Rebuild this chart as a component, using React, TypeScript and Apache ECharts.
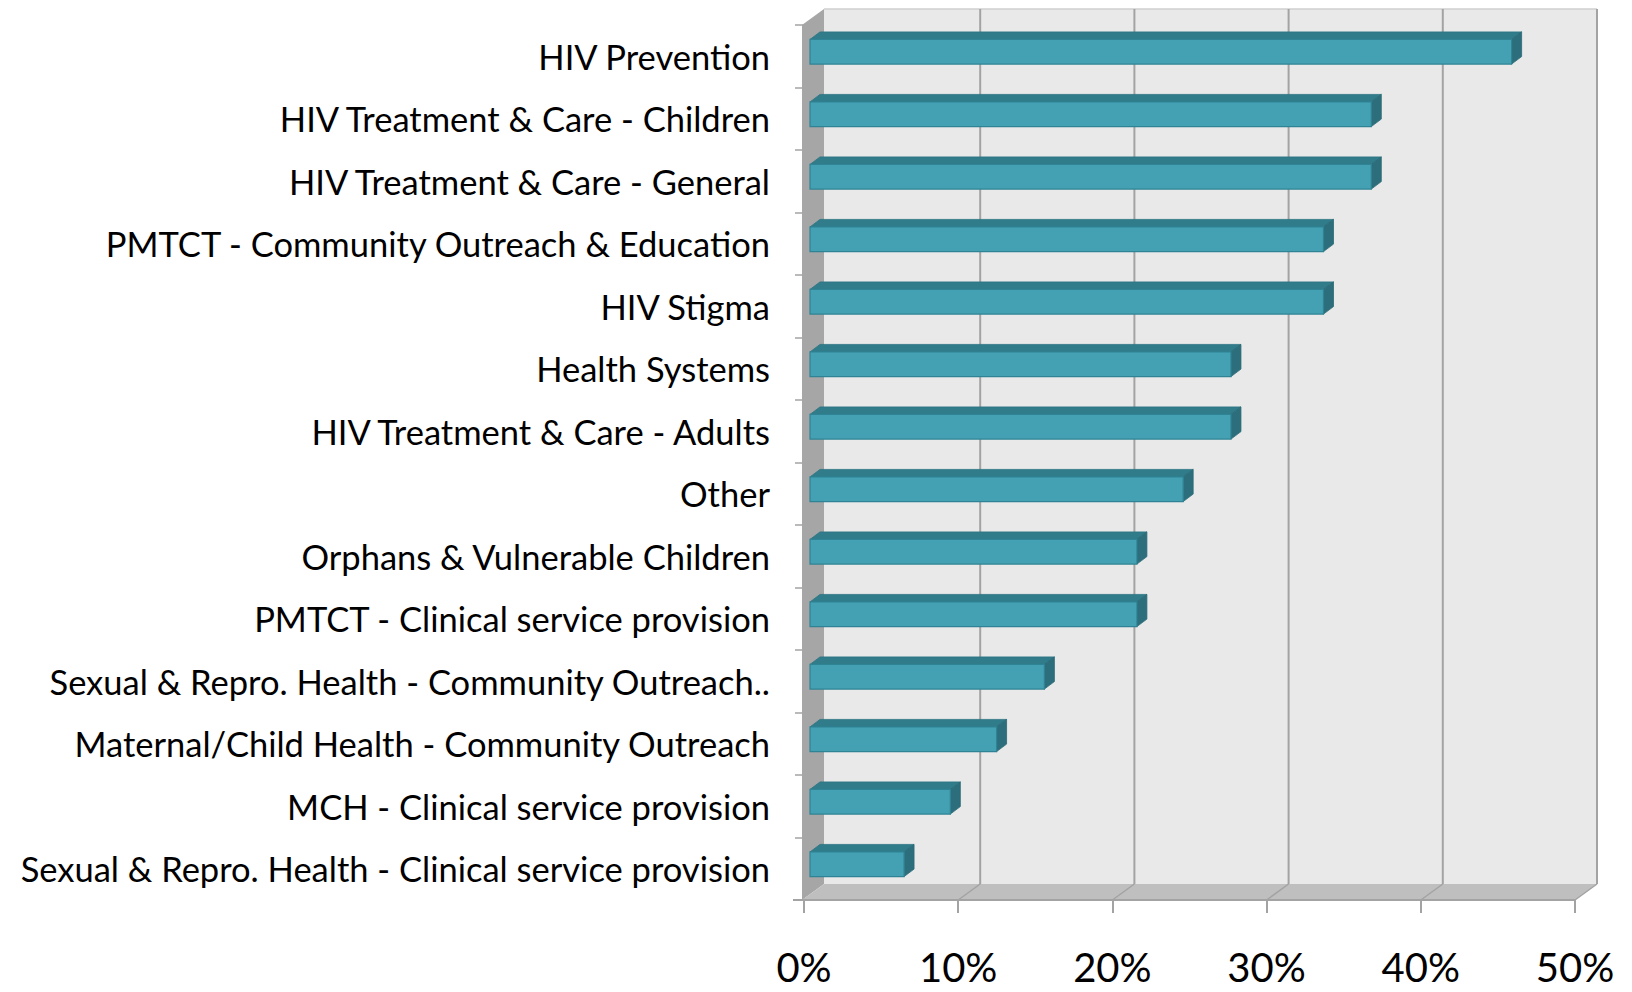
import React, { useEffect, useRef } from "react";
import * as echarts from "echarts";

const categories = [
  "HIV Prevention",
  "HIV Treatment & Care - Children",
  "HIV Treatment & Care - General",
  "PMTCT - Community Outreach & Education",
  "HIV Stigma",
  "Health Systems",
  "HIV Treatment & Care - Adults",
  "Other",
  "Orphans & Vulnerable Children",
  "PMTCT - Clinical service provision",
  "Sexual & Repro. Health - Community Outreach..",
  "Maternal/Child Health - Community Outreach",
  "MCH - Clinical service provision",
  "Sexual & Repro. Health - Clinical service provision",
];
const values = [45.5, 36.4, 36.4, 33.3, 33.3, 27.3, 27.3, 24.2, 21.2, 21.2, 15.2, 12.1, 9.1, 6.1];
const xTicks = [0, 10, 20, 30, 40, 50];

const FONT = "'Gill Sans', 'Gill Sans MT', Lato, 'Open Sans', sans-serif";

export default function App() {
  const ref = useRef<HTMLDivElement>(null);
  useEffect(() => {
    if (!ref.current) return;
    const chart = echarts.init(ref.current, undefined, { renderer: "svg" });
    const DX = 22;
    const DY = -16;

    const wallsRender = (params: any, api: any) => {
      const band = api.size([0, 1])[1];
      const a = api.coord([xTicks[0], 0]);
      const b = api.coord([xTicks[xTicks.length - 1], categories.length - 1]);
      const x0 = a[0] - 2;
      const x1 = b[0];
      const yT = a[1] - band / 2;
      const yB = b[1] + band / 2;
      const children: any[] = [];
      children.push({
        type: "rect",
        shape: { x: x0 + DX, y: yT + DY, width: x1 - x0, height: yB - yT },
        style: { fill: "#e9e9e9", stroke: null },
      });
      children.push({
        type: "line",
        shape: { x1: x0 + DX, y1: yT + DY, x2: x1 + DX, y2: yT + DY },
        style: { stroke: "#cfcfcf", lineWidth: 1.5 },
      });
      children.push({
        type: "polygon",
        shape: { points: [[x0, yT], [x0 + DX, yT + DY], [x0 + DX, yB + DY], [x0, yB]] },
        style: { fill: "#a6a6a6", stroke: null },
      });
      children.push({
        type: "polygon",
        shape: { points: [[x0, yB], [x1, yB], [x1 + DX, yB + DY], [x0 + DX, yB + DY]] },
        style: { fill: "#bfbfbf", stroke: null },
      });
      xTicks.forEach((t, k) => {
        const gx = api.coord([t, 0])[0];
        if (k > 0) {
          children.push({
            type: "line",
            shape: { x1: gx + DX, y1: yT + DY, x2: gx + DX, y2: yB + DY },
            style: { stroke: "#a3a3a3", lineWidth: 2 },
          });
          children.push({
            type: "line",
            shape: { x1: gx, y1: yB, x2: gx + DX, y2: yB + DY },
            style: { stroke: "#a3a3a3", lineWidth: 1.5 },
          });
        }
      });
      children.push({
        type: "line",
        shape: { x1: x0 - 9, y1: yB, x2: x1, y2: yB },
        style: { stroke: "#a3a3a3", lineWidth: 2 },
      });
      return { type: "group", children };
    };

    const barRender = (params: any, api: any) => {
      const v = api.value(0);
      const i = api.value(1);
      const band = api.size([0, 1])[1];
      const p0 = api.coord([0, i]);
      const p1 = api.coord([v, i]);
      const ox = 6;
      const oy = -4.5;
      const h = band * 0.395;
      const bx = 10;
      const by = -7.5;
      const xa = p0[0] + ox;
      const xb = p1[0] + ox;
      const yt = p0[1] + oy - h / 2;
      const yb = p0[1] + oy + h / 2;
      return {
        type: "group",
        children: [
          {
            type: "polygon",
            shape: { points: [[xa, yt], [xb, yt], [xb + bx, yt + by], [xa + bx, yt + by]] },
            style: { fill: "#317c8a", stroke: "#2c7482", lineWidth: 0.8 },
          },
          {
            type: "polygon",
            shape: { points: [[xb, yt], [xb + bx, yt + by], [xb + bx, yb + by], [xb, yb]] },
            style: { fill: "#2c6e7b", stroke: "#2a6976", lineWidth: 0.8 },
          },
          {
            type: "rect",
            shape: { x: xa, y: yt, width: xb - xa, height: yb - yt },
            style: { fill: "#43a1b3", stroke: "#2f8394", lineWidth: 1.2 },
          },
        ],
      };
    };

    chart.setOption({
      animation: false,
      backgroundColor: "#ffffff",
      grid: { left: 804, right: 57, top: 25, bottom: 92, containLabel: false },
      xAxis: {
        type: "value",
        min: 0,
        max: 50,
        interval: 10,
        axisLine: { show: false },
        axisTick: { show: true, length: 13, lineStyle: { color: "#a3a3a3", width: 2 } },
        splitLine: { show: false },
        axisLabel: {
          formatter: "{value}%",
          fontSize: 40,
          lineHeight: 40,
          color: "#000",
          fontFamily: FONT,
          margin: 47,
        },
      },
      yAxis: {
        type: "category",
        data: categories,
        inverse: true,
        axisLine: { show: true, lineStyle: { color: "#a6a6a6", width: 1 } },
        axisTick: { show: true, length: 9, lineStyle: { color: "#a3a3a3", width: 1.5 } },
        splitLine: { show: false },
        axisLabel: {
          fontSize: 34.5,
          color: "#000",
          fontFamily: FONT,
          margin: 34,
        },
      },
      series: [
        {
          type: "custom",
          renderItem: wallsRender,
          data: [[0, 0]],
          encode: { x: 0, y: 1 },
          z: 1,
          silent: true,
        },
        {
          type: "custom",
          renderItem: barRender,
          data: values.map((v, i) => [v, i]),
          encode: { x: 0, y: 1 },
          z: 3,
          silent: true,
        },
      ],
    });
    return () => chart.dispose();
  }, []);
  return (
    <div
      ref={ref}
      style={{ position: "fixed", left: 0, top: 0, width: 1632, height: 992, background: "#fff" }}
    />
  );
}
